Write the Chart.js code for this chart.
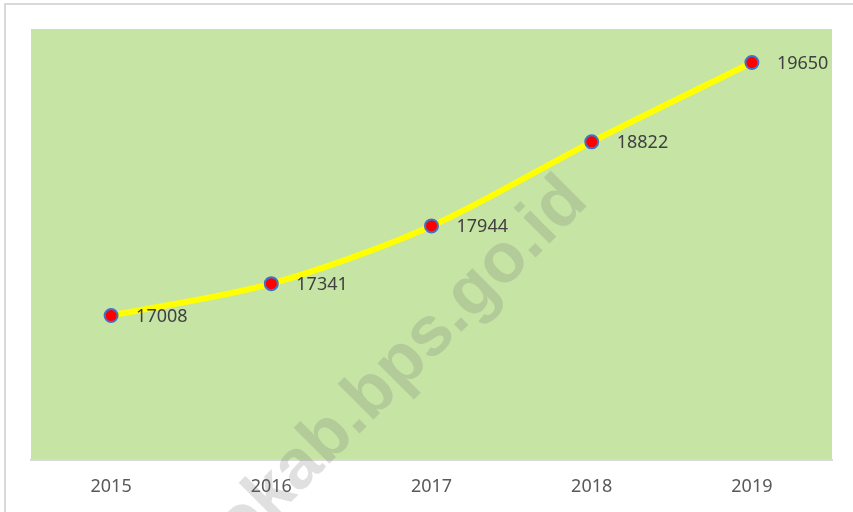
<!DOCTYPE html>
<html>
<head>
<meta charset="utf-8">
<script src="https://cdn.jsdelivr.net/npm/chart.js@4.4.1/dist/chart.umd.min.js"></script>
<style>
  html, body { margin: 0; padding: 0; background: #fff; }
  #wrap { width: 853px; height: 512px; position: relative; }
</style>
</head>
<body>
<div id="wrap"><canvas id="chart" width="853" height="512"></canvas></div>
<script>
// data
const years = ["2015", "2016", "2017", "2018", "2019"];
const values = [17008, 17341, 17944, 18822, 19650];
const yMin = 15500;
const yMax = 20000;

// background, frame + watermark
const bgPlugin = {
  id: "bg",
  beforeDraw(chart) {
    const { ctx, chartArea } = chart;
    ctx.save();
    ctx.fillStyle = "#fff";
    ctx.fillRect(0, 0, chart.width, chart.height);
    ctx.strokeStyle = "#d9d9d9";
    ctx.lineWidth = 2;
    ctx.strokeRect(5, 4, 860, 520);
    ctx.fillStyle = "#c6e5a5";
    ctx.fillRect(chartArea.left, chartArea.top, chartArea.right - chartArea.left, chartArea.bottom - chartArea.top);
    ctx.restore();
  },
  afterDraw(chart) {
    const ctx = chart.ctx;
    ctx.save();
    ctx.translate(590, 203);
    ctx.rotate(-Math.PI / 4);
    ctx.font = "bold 70px 'Liberation Sans', Arial, sans-serif";
    ctx.fillStyle = "rgba(100,100,100,0.2)";
    ctx.textAlign = "right";
    ctx.textBaseline = "alphabetic";
    ctx.fillText("purworejokab.bps.go.id", 0, 0);
    ctx.restore();
  }
};

// angka di kanan titik
const labelPlugin = {
  id: "pointLabels",
  afterDatasetsDraw(chart) {
    const ctx = chart.ctx;
    const meta = chart.getDatasetMeta(0);
    ctx.save();
    ctx.font = "18px 'Noto Sans', sans-serif";
    ctx.fillStyle = "#404040";
    ctx.textAlign = "left";
    ctx.textBaseline = "middle";
    meta.data.forEach((pt, i) => {
      ctx.fillText(String(values[i]), pt.x + 25, pt.y + 1);
    });
    ctx.restore();
  }
};

new Chart(document.getElementById("chart"), {
  type: "line",
  data: {
    labels: years,
    datasets: [
      {
        data: values,
        borderColor: "#ffff00",
        borderWidth: 6,
        tension: 0.3,
        pointRadius: 6.5,
        pointBackgroundColor: "#ff0000",
        pointBorderColor: "#4472c4",
        pointBorderWidth: 2,
      },
    ],
  },
  options: {
    responsive: false,
    animation: false,
    layout: { padding: { left: 31, right: 21, top: 29, bottom: 0 } },
    plugins: { legend: { display: false }, tooltip: { enabled: false } },
    scales: {
      x: {
        offset: true,
        afterFit(scale) { scale.height = 52; },
        grid: { display: false, drawTicks: false },
        border: { display: true, color: "#d9d9d9", width: 2 },
        ticks: {
          color: "#595959",
          padding: 16,
          font: { family: "'Noto Sans', sans-serif", size: 18 },
        },
      },
      y: {
        display: false,
        min: yMin,
        max: yMax,
      },
    },
  },
  plugins: [bgPlugin, labelPlugin],
});
</script>
</body>
</html>
